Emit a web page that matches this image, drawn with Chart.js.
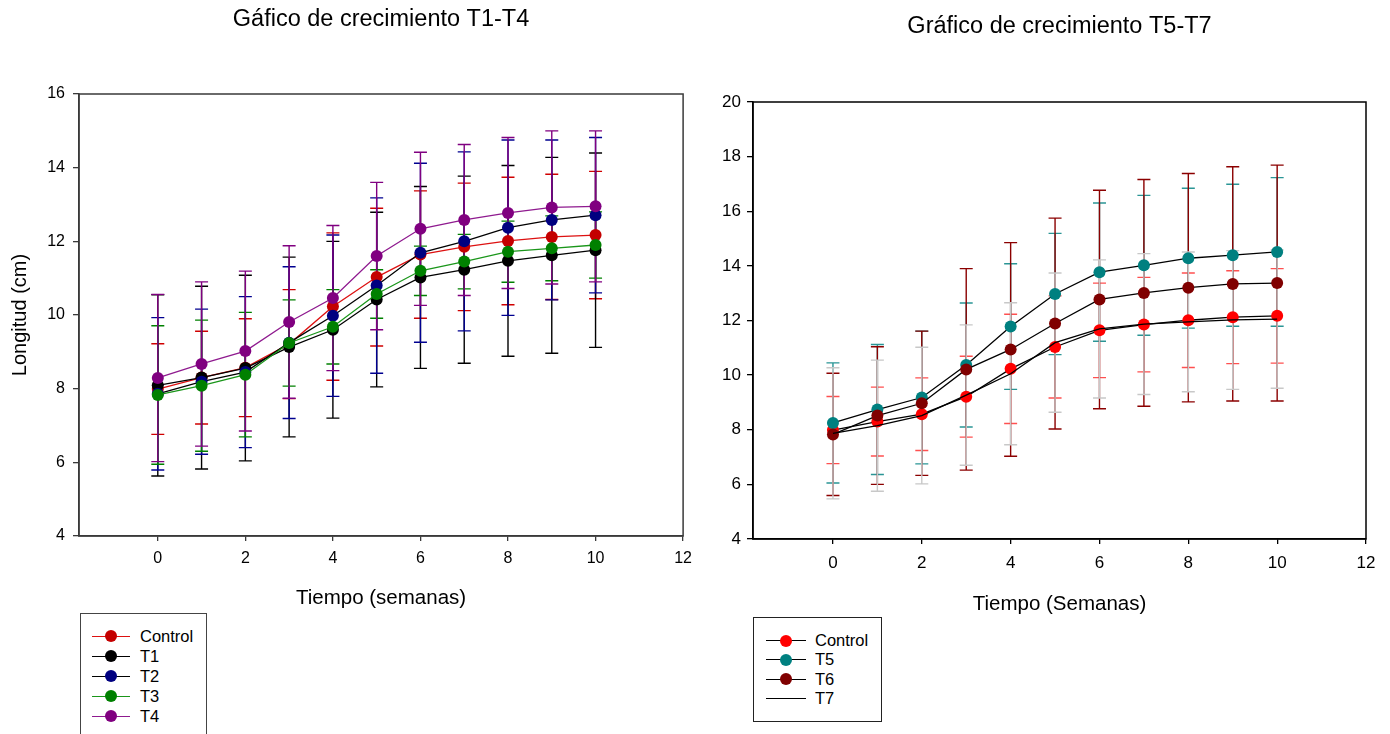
<!DOCTYPE html>
<html>
<head>
<meta charset="utf-8">
<script src="https://cdn.jsdelivr.net/npm/chart.js@4.4.1/dist/chart.umd.min.js"></script>
<style>
  body { margin: 0; background: #fff; width: 1390px; height: 734px; overflow: hidden; position: relative; font-family: "Liberation Sans", Arial, sans-serif; }
  canvas { position: absolute; top: 0; }
  #c1 { left: 0; }
  #c2 { left: 700px; }
  .legend { position: absolute; background: #fff; box-sizing: border-box; }
  .legend .row { display: flex; align-items: center; color: #000; }
  .legend .key { position: relative; height: 100%; flex: none; }
  .legend .ln { position: absolute; left: 0; right: 0; top: 50%; height: 1px; margin-top: -0.5px; }
  .legend .dot { position: absolute; top: 50%; width: 12px; height: 12px; margin-top: -6px; border-radius: 50%; }
  #leg1 { left: 80px; top: 613px; width: 127px; height: 140px; border: 1px solid #444; padding: 12px 0 0 11px; font-size: 16.5px; }
  #leg2 { left: 753px; top: 617px; width: 129px; height: 105px; border: 1px solid #222; padding: 13px 0 0 12px; font-size: 16.5px; }
</style>
</head>
<body>
<canvas id="c1" width="700" height="621"></canvas>
<canvas id="c2" width="690" height="626"></canvas>
<div id="leg1" class="legend"></div>
<div id="leg2" class="legend"></div>
<script>
// semanas
var weeks = [0, 1, 2, 3, 4, 5, 6, 7, 8, 9, 10];
var xTicks = [0, 2, 4, 6, 8, 10, 12];
var yTicksLeft = [4, 6, 8, 10, 12, 14, 16];
var yTicksRight = [4, 6, 8, 10, 12, 14, 16, 18, 20];

// medias y desviaciones (cm)
var controlMean = [7.99, 8.30, 8.57, 9.21, 10.23, 11.03, 11.64, 11.85, 12.01, 12.12, 12.17];
var controlSD   = [1.23, 1.26, 1.33, 1.48, 2.00, 1.87, 1.73, 1.73, 1.73, 1.70, 1.73];
var t1Mean = [8.09, 8.30, 8.56, 9.13, 9.60, 10.42, 11.02, 11.23, 11.47, 11.62, 11.76];
var t1SD   = [2.46, 2.48, 2.52, 2.44, 2.40, 2.37, 2.47, 2.54, 2.59, 2.66, 2.64];
var t2Mean = [7.86, 8.19, 8.45, 9.25, 9.98, 10.80, 11.69, 12.00, 12.37, 12.58, 12.71];
var t2SD   = [2.07, 1.97, 2.05, 2.06, 2.19, 2.38, 2.43, 2.43, 2.38, 2.17, 2.11];
var t3Mean = [7.83, 8.08, 8.38, 9.24, 9.68, 10.57, 11.20, 11.45, 11.72, 11.81, 11.90];
var t3SD   = [1.88, 1.78, 1.69, 1.17, 1.01, 0.66, 0.67, 0.74, 0.83, 0.88, 0.90];
var t4Mean = [8.29, 8.67, 9.02, 9.81, 10.46, 11.60, 12.34, 12.58, 12.77, 12.92, 12.95];
var t4SD   = [2.27, 2.23, 2.17, 2.07, 1.97, 2.00, 2.08, 2.05, 2.05, 2.08, 2.05];

var t5Mean = [8.25, 8.74, 9.18, 10.37, 11.78, 12.97, 13.77, 14.02, 14.28, 14.39, 14.51];
var t5SD   = [2.20, 2.38, 2.43, 2.27, 2.30, 2.22, 2.53, 2.56, 2.56, 2.60, 2.72];
var t6Mean = [7.83, 8.52, 8.97, 10.21, 10.94, 11.89, 12.77, 13.01, 13.20, 13.34, 13.37];
var t6SD   = [2.24, 2.52, 2.64, 3.69, 3.91, 3.86, 4.00, 4.15, 4.18, 4.29, 4.32];
var t7Mean = [7.87, 8.15, 8.52, 9.27, 10.05, 11.19, 11.69, 11.87, 11.95, 12.02, 12.05];
var t7SD   = [2.40, 2.40, 2.50, 2.57, 2.60, 2.55, 2.53, 2.58, 2.56, 2.54, 2.53];

var FONT = "'Liberation Sans', Arial, sans-serif";

function pts(mean) {
    return weeks.map((w, i) => ({ x: w, y: mean[i] }));
}

function serie(label, mean, sd, line, dot, errColor, order) {
    return {
        label: label,
        data: pts(mean),
        errors: sd,
        errorColor: errColor,
        borderColor: line,
        borderWidth: 1.3,
        backgroundColor: dot || line,
        pointBackgroundColor: dot || line,
        pointBorderColor: dot || line,
        pointBorderWidth: 0,
        pointRadius: dot ? 6 : 0,
        tension: 0,
        order: order
    };
}

// barras de error: se dibujan antes que las lineas y puntos
var errorBars = {
    id: 'errorBars',
    beforeDatasetsDraw(chart) {
        var ctx = chart.ctx, xs = chart.scales.x, ys = chart.scales.y;
        chart.data.datasets.forEach(ds => {
            if (!ds.errors) return;
            ctx.save();
            ctx.strokeStyle = ds.errorColor;
            ctx.lineWidth = 1.4;
            ds.data.forEach((p, j) => {
                var px = xs.getPixelForValue(p.x);
                var top = ys.getPixelForValue(p.y + ds.errors[j]);
                var bot = ys.getPixelForValue(p.y - ds.errors[j]);
                ctx.beginPath();
                ctx.moveTo(px, top); ctx.lineTo(px, bot);
                ctx.moveTo(px - 6.5, top); ctx.lineTo(px + 6.5, top);
                ctx.moveTo(px - 6.5, bot); ctx.lineTo(px + 6.5, bot);
                ctx.stroke();
            });
            ctx.restore();
        });
    }
};

// marco completo alrededor del area + titulo centrado sobre el area
var frame = {
    id: 'frame',
    afterDraw(chart, args, opts) {
        var a = chart.chartArea, ctx = chart.ctx;
        ctx.save();
        ctx.strokeStyle = opts.color;
        ctx.lineWidth = 1.5;
        ctx.strokeRect(a.left, a.top, a.right - a.left, a.bottom - a.top);
        ctx.fillStyle = '#000';
        ctx.font = opts.titleSize + 'px ' + FONT;
        ctx.textAlign = 'center';
        ctx.textBaseline = 'middle';
        ctx.fillText(opts.title, (a.left + a.right) / 2, opts.titleY);
        ctx.restore();
    }
};

function opciones(cfg) {
    return {
        responsive: false,
        animation: false,
        devicePixelRatio: 1,
        layout: { padding: { left: 0, right: cfg.padRight, top: cfg.padTop, bottom: 0 } },
        plugins: {
            legend: { display: false },
            tooltip: { enabled: false },
            title: { display: false },
            frame: { color: cfg.axisColor, title: cfg.title, titleY: cfg.titleY, titleSize: 23.5 }
        },
        scales: {
            x: {
                type: 'linear',
                min: -1.8,
                max: 12,
                afterBuildTicks: s => { s.ticks = xTicks.map(v => ({ value: v })); },
                afterFit: s => { s.height = cfg.xHeight; },
                grid: { drawOnChartArea: false, drawTicks: true, tickLength: 5, color: cfg.axisColor, lineWidth: 1.3 },
                border: { display: true, color: cfg.axisColor, width: 1.5 },
                ticks: { color: '#000', padding: cfg.xTickPad, font: { family: FONT, size: cfg.tickSize }, maxRotation: 0 },
                title: {
                    display: true,
                    text: cfg.xTitle,
                    color: '#000',
                    font: { family: FONT, size: 20.5 },
                    padding: { top: 0, bottom: cfg.xTitlePad }
                }
            },
            y: {
                min: cfg.yTicks[0],
                max: cfg.yTicks[cfg.yTicks.length - 1],
                afterBuildTicks: s => { s.ticks = cfg.yTicks.map(v => ({ value: v })); },
                afterFit: s => { s.width = cfg.yWidth; },
                grid: { drawOnChartArea: false, drawTicks: true, tickLength: 6, color: cfg.axisColor, lineWidth: 1.3 },
                border: { display: true, color: cfg.axisColor, width: 1.5 },
                ticks: { color: '#000', padding: cfg.yTickPad, font: { family: FONT, size: cfg.tickSize } },
                title: {
                    display: !!cfg.yTitle,
                    text: cfg.yTitle,
                    color: '#000',
                    font: { family: FONT, size: 20 },
                    padding: { top: 8, bottom: 0 }
                }
            }
        }
    };
}

var chart1 = new Chart(document.getElementById('c1'), {
    type: 'line',
    data: {
        datasets: [
            serie('Control', controlMean, controlSD, '#dd1111', '#c40000', '#d00000', 5),
            serie('T1', t1Mean, t1SD, '#000000', '#000000', '#000000', 4),
            serie('T2', t2Mean, t2SD, '#000000', '#000080', '#000090', 3),
            serie('T3', t3Mean, t3SD, '#1a961a', '#008000', '#008000', 2),
            serie('T4', t4Mean, t4SD, '#8f1a8f', '#800080', '#800080', 1)
        ]
    },
    options: opciones({
        title: 'Gáfico de crecimiento T1-T4', titleY: 20, padTop: 94,
        xTitle: 'Tiempo (semanas)', yTitle: 'Longitud (cm)',
        yTicks: yTicksLeft, yWidth: 79, xHeight: 85, xTitlePad: 10, xTickPad: 8,
        padRight: 16, tickSize: 16, yTickPad: 8, axisColor: '#3a3a3a'
    }),
    plugins: [errorBars, frame]
});

var chart2 = new Chart(document.getElementById('c2'), {
    type: 'line',
    data: {
        datasets: [
            serie('Control', controlMean, controlSD, '#000000', '#ff0000', '#ff5050', 4),
            serie('T5', t5Mean, t5SD, '#000000', '#008080', '#2a9595', 3),
            serie('T6', t6Mean, t6SD, '#000000', '#800000', '#8b0000', 2),
            serie('T7', t7Mean, t7SD, '#000000', null, '#c8c8c8', 1)
        ]
    },
    options: opciones({
        title: 'Gráfico de crecimiento T5-T7', titleY: 27, padTop: 102,
        xTitle: 'Tiempo (Semanas)', yTitle: '',
        yTicks: yTicksRight, yWidth: 53, xHeight: 87, xTitlePad: 9, xTickPad: 9,
        padRight: 24, tickSize: 17, yTickPad: 6, axisColor: '#000000'
    }),
    plugins: [errorBars, frame]
});

// leyendas en caja, hechas a partir de los datasets
function leyenda(chart, id, rowH, keyW, dotLeft, gap) {
    var box = document.getElementById(id);
    chart.data.datasets.forEach(ds => {
        var row = document.createElement('div');
        row.className = 'row';
        row.style.height = rowH + 'px';
        var key = document.createElement('span');
        key.className = 'key';
        key.style.width = keyW + 'px';
        key.style.marginRight = gap + 'px';
        var ln = document.createElement('span');
        ln.className = 'ln';
        ln.style.background = ds.borderColor;
        key.appendChild(ln);
        if (ds.pointRadius > 0) {
            var dot = document.createElement('span');
            dot.className = 'dot';
            dot.style.left = dotLeft + 'px';
            dot.style.background = ds.pointBackgroundColor;
            key.appendChild(dot);
        }
        row.appendChild(key);
        row.appendChild(document.createTextNode(ds.label));
        box.appendChild(row);
    });
}
leyenda(chart1, 'leg1', 20, 38, 13, 10);
leyenda(chart2, 'leg2', 19.3, 40, 14, 9);
</script>
</body>
</html>
